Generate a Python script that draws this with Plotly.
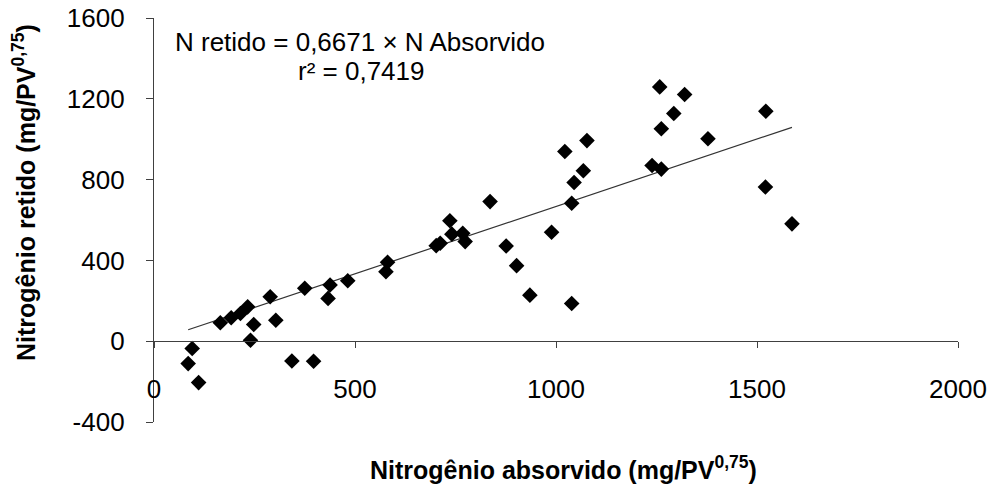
import plotly.graph_objects as go

# Data
n_absorvido = [85, 95, 111, 165, 192, 215, 233, 248, 240, 289, 303, 343, 375, 397, 433, 438,
               482, 577, 581, 702, 712, 736, 741, 768, 774, 836, 876, 902, 935,
               989, 1022, 1039, 1039, 1045, 1068, 1077, 1239, 1258, 1262, 1262, 1293, 1320,
               1378, 1522, 1521, 1587]
n_retido = [-111, -36, -205, 91, 116, 137, 170, 83, 5, 220, 104, -98, 262, -99, 212, 278,
            299, 344, 391, 473, 485, 596, 530, 534, 493, 691, 471, 374, 228,
            539, 939, 187, 683, 786, 844, 993, 870, 1259, 852, 1052, 1127, 1221,
            1002, 1138, 763, 581]

slope = 0.6671
eq_text = "N retido = 0,6671 × N Absorvido"
r2_text = "r² = 0,7419"
x_title = "<b>Nitrogênio absorvido (mg/PV<sup>0,75</sup>)</b>"
y_title = "<b>Nitrogênio retido (mg/PV<sup>0,75</sup>)</b>"
x_ticks = [0, 500, 1000, 1500, 2000]
y_ticks = [-400, 0, 400, 800, 1200, 1600]

FONT = "Liberation Sans, Arial, sans-serif"
AX = "#404040"
TICK_SIZE = 26
TXT_SIZE = 26
TITLE_SIZE = 25

x_min, x_max = min(n_absorvido), max(n_absorvido)

fig = go.Figure()
fig.add_trace(go.Scatter(
    x=[x_min, x_max], y=[slope * x_min, slope * x_max],
    mode="lines", line=dict(color="#333333", width=1.2), hoverinfo="skip",
    showlegend=False))
fig.add_trace(go.Scatter(
    x=n_absorvido, y=n_retido, mode="markers",
    marker=dict(symbol="diamond", size=12, color="black"),
    showlegend=False))

fig.update_layout(
    width=992, height=485,
    margin=dict(l=154, r=34, t=18, b=63),
    plot_bgcolor="white", paper_bgcolor="white",
    font=dict(family=FONT, size=TXT_SIZE, color="black"),
    xaxis=dict(range=[0, 2000], tickvals=x_ticks, ticktext=[str(v) for v in x_ticks],
               showgrid=False, zeroline=False, showline=True, linecolor=AX, linewidth=1.3,
               ticks="outside", ticklen=6, tickcolor=AX, tickwidth=1.3,
               anchor="free", position=0.2, ticklabelstandoff=18, automargin=False,
               tickfont=dict(family=FONT, size=TICK_SIZE, color="black")),
    yaxis=dict(range=[-400, 1600], tickvals=y_ticks, ticktext=[str(v) for v in y_ticks],
               showgrid=False, zeroline=False, showline=True, linecolor=AX, linewidth=1.3,
               ticks="outside", ticklen=7, tickcolor=AX, tickwidth=1.3,
               ticklabelstandoff=16, automargin=False,
               tickfont=dict(family=FONT, size=TICK_SIZE, color="black")),
)

fig.add_annotation(x=(360 - 154) / 804, y=(422 - 42) / 404, xref="paper", yref="paper",
                   text=eq_text, showarrow=False, xanchor="center", yanchor="middle",
                   font=dict(family=FONT, size=TXT_SIZE))
fig.add_annotation(x=(361 - 154) / 804, y=(422 - 71) / 404, xref="paper", yref="paper",
                   text=r2_text, showarrow=False, xanchor="center", yanchor="middle",
                   font=dict(family=FONT, size=TXT_SIZE))
# axis titles
fig.add_annotation(x=(563 - 154) / 804, y=(422 - 468) / 404, xref="paper", yref="paper",
                   text=x_title, showarrow=False, xanchor="center", yanchor="middle",
                   font=dict(family=FONT, size=TITLE_SIZE))
fig.add_annotation(x=(24 - 154) / 804, y=(422 - 193) / 404, xref="paper", yref="paper",
                   text=y_title, showarrow=False, xanchor="center", yanchor="middle",
                   textangle=-90, font=dict(family=FONT, size=TITLE_SIZE))

fig.write_html("out.html")
